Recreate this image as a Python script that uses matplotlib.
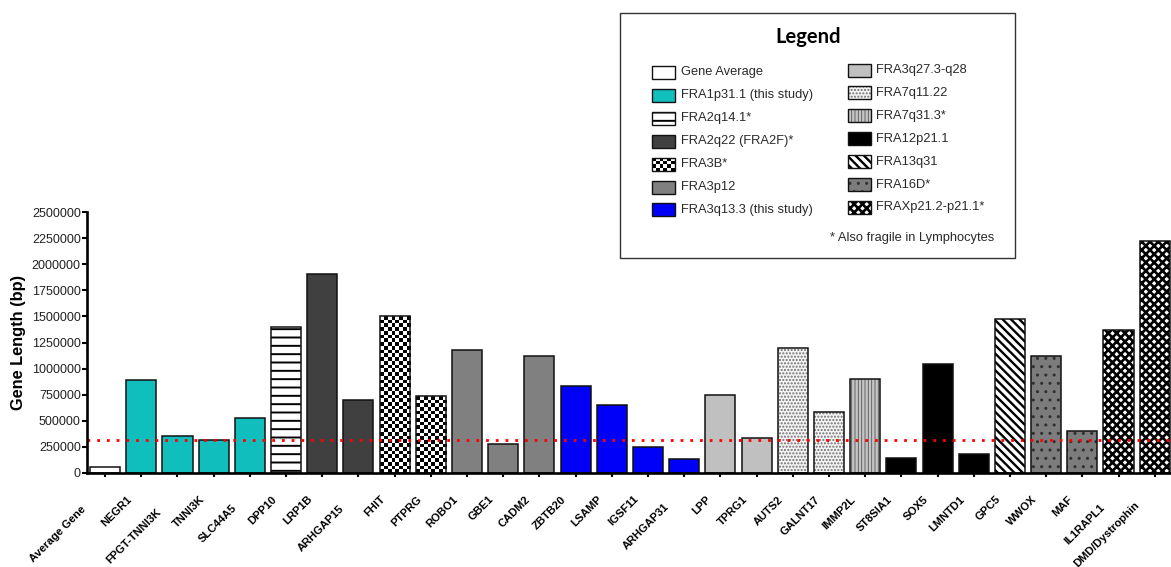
import numpy as np
import matplotlib
matplotlib.use("Agg")
import matplotlib.pyplot as plt
from matplotlib.patches import Rectangle

# genes along the x axis, in plot order
genes = ["Average Gene", "NEGR1", "FPGT-TNNI3K", "TNNI3K", "SLC44A5", "DPP10",
         "LRP1B", "ARHGAP15", "FHIT", "PTPRG", "ROBO1", "GBE1", "CADM2",
         "ZBTB20", "LSAMP", "IGSF11", "ARHGAP31", "LPP", "TPRG1", "AUTS2",
         "GALNT17", "IMMP2L", "ST8SIA1", "SOX5", "LMNTD1", "GPC5", "WWOX",
         "MAF", "IL1RAPL1", "DMD/Dystrophin"]
gene_length = [57000, 888000, 350000, 313000, 522000, 1400000,
               1905000, 697000, 1503000, 738000, 1177000, 275000, 1116000,
               834000, 646000, 250000, 128000, 742000, 330000, 1200000,
               585000, 898000, 144000, 1040000, 179000, 1475000, 1120000,
               403000, 1373000, 2224000]
# fragile site each gene lies in
gene_site = ["Gene Average", "FRA1p31.1 (this study)", "FRA1p31.1 (this study)",
             "FRA1p31.1 (this study)", "FRA1p31.1 (this study)", "FRA2q14.1*",
             "FRA2q22 (FRA2F)*", "FRA2q22 (FRA2F)*", "FRA3B*", "FRA3B*",
             "FRA3p12", "FRA3p12", "FRA3p12",
             "FRA3q13.3 (this study)", "FRA3q13.3 (this study)",
             "FRA3q13.3 (this study)", "FRA3q13.3 (this study)",
             "FRA3q27.3-q28", "FRA3q27.3-q28", "FRA7q11.22", "FRA7q11.22",
             "FRA7q31.3*", "FRA12p21.1", "FRA12p21.1", "FRA12p21.1",
             "FRA13q31", "FRA16D*", "FRA16D*",
             "FRAXp21.2-p21.1*", "FRAXp21.2-p21.1*"]
legend_left = ["Gene Average", "FRA1p31.1 (this study)", "FRA2q14.1*",
               "FRA2q22 (FRA2F)*", "FRA3B*", "FRA3p12", "FRA3q13.3 (this study)"]
legend_right = ["FRA3q27.3-q28", "FRA7q11.22", "FRA7q31.3*", "FRA12p21.1",
                "FRA13q31", "FRA16D*", "FRAXp21.2-p21.1*"]
average_length = 312000
y_ticks = list(range(0, 2500001, 250000))

# face colour, hatch, hatch colour, hatch width
styles = {
    "Gene Average": ("white", None, "black", 1.0),
    "FRA1p31.1 (this study)": ("#10BEBE", None, "black", 1.0),
    "FRA2q14.1*": ("white", "--", "black", 1.4),
    "FRA2q22 (FRA2F)*": ("#404040", None, "black", 1.0),
    "FRA3B*": ("white", "checker", "black", 1.0),
    "FRA3p12": ("#808080", None, "black", 1.0),
    "FRA3q13.3 (this study)": ("#0000F8", None, "black", 1.0),
    "FRA3q27.3-q28": ("#C0C0C0", None, "black", 1.0),
    "FRA7q11.22": ("#F4F4F4", ".....", "#707070", 1.0),
    "FRA7q31.3*": ("#C4C4C4", "|||||", "#555555", 0.6),
    "FRA12p21.1": ("black", None, "black", 1.0),
    "FRA13q31": ("white", "\\\\\\\\", "black", 1.7),
    "FRA16D*": ("#7C7C7C", "..", "#303030", 1.0),
    "FRAXp21.2-p21.1*": ("white", "xxxx", "black", 1.9),
}


def fill_box(ax, x0, y0, w, h, site, wpx, hpx, edge_lw):
    face, hatch, hcol, hlw = styles[site]
    if hatch == "checker":
        base = Rectangle((x0, y0), w, h, facecolor="white", lw=0, zorder=2)
        ax.add_patch(base)
        nc = max(1, int(round(wpx / 3.7)))
        nr = max(1, int(round(abs(hpx) / 3.7)))
        board = np.indices((nr, nc)).sum(axis=0) % 2
        im = ax.imshow(board, cmap="gray", extent=(x0, x0 + w, y0, y0 + h),
                       origin="lower", interpolation="nearest", aspect="auto",
                       zorder=2)
        im.set_clip_path(base)
    else:
        with plt.rc_context({"hatch.linewidth": hlw}):
            p = Rectangle((x0, y0), w, h, facecolor=face, edgecolor=hcol,
                          hatch=hatch, lw=0, zorder=2)
            if hasattr(p, "set_hatch_linewidth"):
                p.set_hatch_linewidth(hlw)
        ax.add_patch(p)
    ax.add_patch(Rectangle((x0, y0), w, h, fill=False, edgecolor="#111111",
                           lw=edge_lw, zorder=3))


W, H = 1171, 567
fig = plt.figure(figsize=(W / 100, H / 100), dpi=100)
ax = fig.add_axes([87 / W, (H - 472.7) / H, (W - 87) / W, 260.4 / H])
ax.set_xlim(-0.5, 29.45)
ax.set_ylim(0, 2500000)

x = np.arange(len(genes))
bw = 0.83
px_x = ax.transData.transform((1, 0))[0] - ax.transData.transform((0, 0))[0]
px_y = ax.transData.transform((0, 1e6))[1] - ax.transData.transform((0, 0))[1]
for xi, v, site in zip(x, gene_length, gene_site):
    fill_box(ax, xi - bw / 2, 0, bw, v, site, bw * px_x, v / 1e6 * px_y, 1.1)

ax.axhline(average_length, color="red", lw=2, ls=(0, (1, 2.5)), zorder=4)

ax.set_xlim(-0.5, 29.45)
ax.set_ylim(0, 2500000)
for s in ["top", "right"]:
    ax.spines[s].set_visible(False)
for s in ["left", "bottom"]:
    ax.spines[s].set_linewidth(1.9)
    ax.spines[s].set_zorder(5)
ax.set_yticks(y_ticks)
ax.set_yticklabels([str(t) for t in y_ticks], fontsize=9,
                   fontfamily="Liberation Sans", color="#222222")
ax.tick_params(axis="y", length=3.5, width=1.5, pad=1)
ax.set_xticks(x)
ax.set_xticklabels([])
ax.tick_params(axis="x", length=3, width=1.5)
ax.set_ylabel("Gene Length (bp)", fontsize=11.8, fontweight="bold",
              fontfamily="Liberation Sans")
ax.yaxis.set_label_coords(-0.0565, 0.5)

# a few names sit a bit lower than the rest
label_shift = {"Average Gene": (-10, -10), "FPGT-TNNI3K": (-7, -13),
               "SLC44A5": (-4, -9), "ARHGAP15": (-5, -9),
               "ARHGAP31": (-6, -7), "IL1RAPL1": (-4, -8),
               "DMD/Dystrophin": (-6, -6)}
for xi, name in zip(x, genes):
    dx, dy = label_shift.get(name, (0, 0))
    ax.annotate(name, xy=(xi, 0), xycoords=("data", "axes fraction"),
                xytext=(-11 + dx, -25 + dy), textcoords="offset pixels",
                rotation=45, ha="right", va="center", rotation_mode="anchor",
                fontsize=8, fontweight="bold", fontfamily="Liberation Sans",
                annotation_clip=False)

# legend drawn on an overlay in pixel units
lax = fig.add_axes([0, 0, 1, 1], zorder=10)
lax.set_xlim(0, W)
lax.set_ylim(H, 0)
lax.axis("off")
lax.add_patch(Rectangle((620, 13), 395, 245, facecolor="white",
                        edgecolor="#333333", lw=1.0))
lax.text(808, 37, "Legend", ha="center", va="center", fontsize=14.5,
         fontweight="bold", fontfamily="Lato")
for col, (px0, tx, ytop) in zip([legend_left, legend_right],
                                [(652, 681, 72.5), (848, 876, 70)]):
    for k, site in enumerate(col):
        yc = ytop + k * 22.9
        fill_box(lax, px0, yc - 6.5, 23, 13, site, 23, 13, 1.0)
        lax.text(tx, yc, site, ha="left", va="center", fontsize=9.3,
                 fontfamily="Liberation Sans", color="#2a2a2a")
lax.text(912, 238, "* Also fragile in Lymphocytes", ha="center", va="center",
         fontsize=9.3, fontfamily="Liberation Sans", color="#2a2a2a")
lax.set_xlim(0, W)
lax.set_ylim(H, 0)

fig.savefig("out.png", dpi=100)
